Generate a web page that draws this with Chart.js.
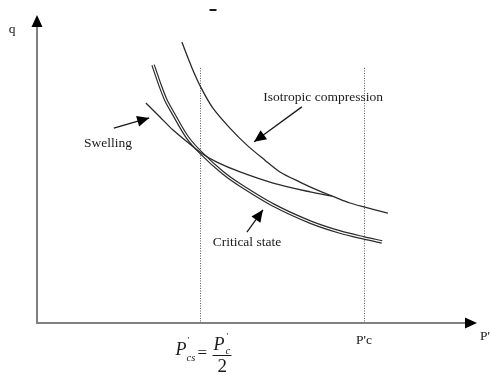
<!DOCTYPE html>
<html>
<head>
<meta charset="utf-8">
<script src="https://cdn.jsdelivr.net/npm/chart.js@4/dist/chart.umd.min.js"></script>
<style>
  html, body { margin: 0; padding: 0; background: #ffffff; }
  #wrap { width: 490px; height: 374px; position: relative; }
</style>
</head>
<body>
<div id="wrap"><canvas id="c" width="490" height="374"></canvas></div>
<script>
// ---- Data (P' on x, q on y; P'c = 100) ----
const isoP   = [44.3, 47.4, 50.2, 53.8, 59.0, 64.2, 69.7, 74.3, 80.4, 85.6, 91.1, 95.7, 100.0, 107.3];
const isoQ   = [85.9, 78.0, 71.9, 65.7, 59.6, 54.4, 49.8, 46.2, 43.1, 40.7, 38.5, 36.7, 35.5, 33.6];

const swellP = [33.3, 37.6, 41.6, 45.9, 50.2, 55.0, 62.1, 72.2, 83.5, 90.2];
const swellQ = [67.3, 63.0, 59.0, 55.4, 52.0, 49.2, 46.2, 42.8, 40.1, 38.8];

const csP    = [35.5, 37.6, 39.4, 41.6, 45.9, 50.2, 56.9, 62.1, 72.2, 83.5, 92.7, 100.0, 105.5];
const csQ    = [78.9, 72.8, 68.2, 64.2, 56.9, 52.0, 45.9, 42.2, 36.1, 30.9, 27.8, 26.0, 24.8];

const markerP      = [50, 100];          // P'cs and P'c
const markerTop    = 78;                 // top of the dotted guides (q)
const markerLabels = ["", "P'c"];
const axisMax      = { p: 134.56, q: 94.19 };
const axisTitles   = { p: "P'", q: "q" };

const annotations = [
  { text: "Isotropic compression", x: 87.5, y: 69.1, from: [81.0, 66.1], to: [66.4, 55.4] },
  { text: "Swelling",              x: 21.7, y: 55.0, from: [23.5, 59.6], to: [34.3, 62.7] },
  { text: "Critical state",        x: 64.2, y: 24.5, from: [64.2, 27.8], to: [69.1, 34.6] }
];

const pts = (xs, ys) => xs.map((x, i) => ({ x: x, y: ys[i] }));
const SERIF = '"Liberation Serif", "DejaVu Serif", serif';
const INK = '#1a1a1a';

function arrowHead(ctx, x1, y1, x2, y2, len, half) {
  const a = Math.atan2(y2 - y1, x2 - x1);
  ctx.beginPath();
  ctx.moveTo(x2, y2);
  ctx.lineTo(x2 - len * Math.cos(a) + half * Math.sin(a), y2 - len * Math.sin(a) - half * Math.cos(a));
  ctx.lineTo(x2 - len * Math.cos(a) - half * Math.sin(a), y2 - len * Math.sin(a) + half * Math.cos(a));
  ctx.closePath();
  ctx.fill();
}

const decor = {
  id: 'decor',
  beforeDatasetsDraw(chart) {
    const ctx = chart.ctx, xs = chart.scales.x, ys = chart.scales.y;
    ctx.save();
    // dotted guides
    ctx.strokeStyle = '#555';
    ctx.lineWidth = 1;
    ctx.setLineDash([1, 1.5]);
    markerP.forEach(p => {
      const px = Math.round(xs.getPixelForValue(p)) + 0.5;
      ctx.beginPath();
      ctx.moveTo(px, ys.getPixelForValue(markerTop));
      ctx.lineTo(px, ys.getPixelForValue(0));
      ctx.stroke();
    });
    ctx.setLineDash([]);
    // axes
    const ox = xs.getPixelForValue(0), oy = ys.getPixelForValue(0);
    const ex = xs.getPixelForValue(axisMax.p), ey = ys.getPixelForValue(axisMax.q);
    ctx.strokeStyle = '#808080';
    ctx.lineWidth = 2;
    ctx.beginPath();
    ctx.moveTo(ox, ey + 8); ctx.lineTo(ox, oy); ctx.lineTo(ex - 8, oy);
    ctx.stroke();
    ctx.fillStyle = '#000';
    arrowHead(ctx, ox, oy, ox, ey, 12, 5.5);
    arrowHead(ctx, ox, oy, ex, oy, 12, 5.5);
    ctx.restore();
  },
  afterDatasetsDraw(chart) {
    const ctx = chart.ctx, xs = chart.scales.x, ys = chart.scales.y;
    ctx.save();
    ctx.fillStyle = INK;
    ctx.strokeStyle = INK;
    ctx.font = '13.5px ' + SERIF;
    ctx.textAlign = 'center';
    ctx.textBaseline = 'middle';
    // annotations
    annotations.forEach(a => {
      ctx.fillText(a.text, xs.getPixelForValue(a.x), ys.getPixelForValue(a.y));
      const x1 = xs.getPixelForValue(a.from[0]), y1 = ys.getPixelForValue(a.from[1]);
      const x2 = xs.getPixelForValue(a.to[0]),   y2 = ys.getPixelForValue(a.to[1]);
      ctx.lineWidth = 1.3;
      ctx.beginPath(); ctx.moveTo(x1, y1); ctx.lineTo(x2, y2); ctx.stroke();
      ctx.fillStyle = '#000';
      arrowHead(ctx, x1, y1, x2, y2, 12, 5.5);
      ctx.fillStyle = INK;
    });
    // axis titles and marker labels
    const oy = ys.getPixelForValue(0);
    ctx.fillText(axisTitles.q, xs.getPixelForValue(0) - 25, ys.getPixelForValue(axisMax.q) + 14);
    ctx.textAlign = 'left';
    ctx.fillText(axisTitles.p, xs.getPixelForValue(axisMax.p) + 3, oy + 13);
    ctx.textAlign = 'center';
    markerP.forEach((p, i) => {
      if (markerLabels[i]) ctx.fillText(markerLabels[i], xs.getPixelForValue(p), oy + 17);
    });
    // formula  P'cs = P'c / 2
    const fx = xs.getPixelForValue(markerP[0]);
    ctx.textAlign = 'left';
    ctx.textBaseline = 'alphabetic';
    ctx.font = 'italic 18px ' + SERIF;
    ctx.fillText('P', fx - 25, oy + 32);
    ctx.font = '9px ' + SERIF;
    ctx.fillText("'", fx - 13, oy + 20);
    ctx.font = 'italic 10.5px ' + SERIF;
    ctx.fillText('cs', fx - 14, oy + 38);
    ctx.font = '17px ' + SERIF;
    ctx.fillText('=', fx - 3, oy + 35);
    ctx.font = 'italic 18px ' + SERIF;
    ctx.fillText('P', fx + 13, oy + 27);
    ctx.font = '9px ' + SERIF;
    ctx.fillText("'", fx + 26, oy + 16);
    ctx.font = 'italic 10.5px ' + SERIF;
    ctx.fillText('c', fx + 25, oy + 31);
    ctx.lineWidth = 1;
    ctx.beginPath(); ctx.moveTo(fx + 12, oy + 32.5); ctx.lineTo(fx + 31, oy + 32.5); ctx.stroke();
    ctx.font = '19px ' + SERIF;
    ctx.fillText('2', fx + 17, oy + 49);
    // small mark at top
    ctx.fillRect(fx + 9, 9, 7, 2);
    ctx.restore();
  }
};

const lineStyle = { showLine: true, pointRadius: 0, tension: 0.3, fill: false };

new Chart(document.getElementById('c'), {
  type: 'scatter',
  data: {
    datasets: [
      Object.assign({ label: 'Isotropic compression', data: pts(isoP, isoQ), borderColor: '#2a2a2a', borderWidth: 1.3, order: 1 }, lineStyle),
      Object.assign({ label: 'Swelling', data: pts(swellP, swellQ), borderColor: '#2a2a2a', borderWidth: 1.3, order: 2 }, lineStyle),
      Object.assign({ label: 'Critical state (gap)', data: pts(csP, csQ), borderColor: '#ffffff', borderWidth: 1.2, order: 3 }, lineStyle),
      Object.assign({ label: 'Critical state', data: pts(csP, csQ), borderColor: '#2a2a2a', borderWidth: 3.6, order: 4 }, lineStyle)
    ]
  },
  options: {
    responsive: false,
    animation: false,
    layout: { padding: { left: 37, right: 13, top: 15, bottom: 51 } },
    plugins: { legend: { display: false }, tooltip: { enabled: false } },
    scales: {
      x: { type: 'linear', min: 0, max: axisMax.p, display: false },
      y: { type: 'linear', min: 0, max: axisMax.q, display: false }
    }
  },
  plugins: [decor]
});
</script>
</body>
</html>
